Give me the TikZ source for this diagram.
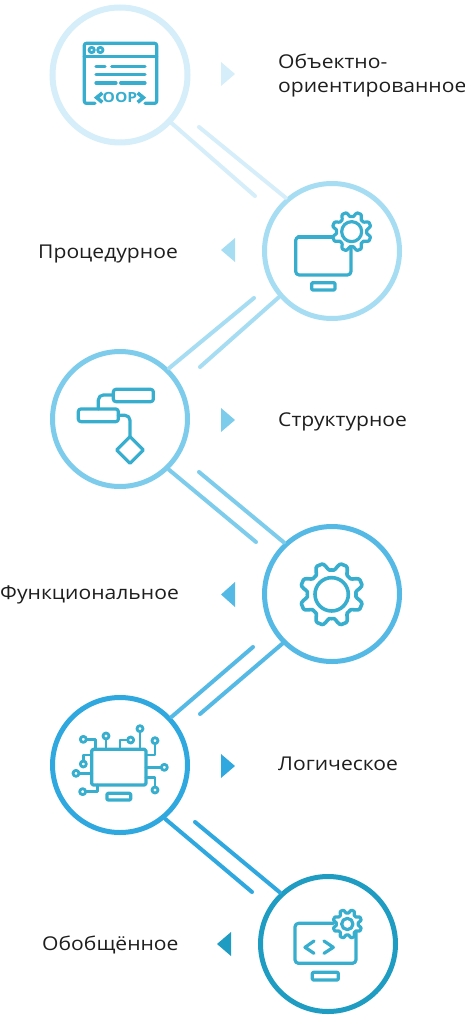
\documentclass[tikz,border=0pt]{standalone}
\usepackage{fontspec}
\setmainfont{Open Sans}[FakeStretch=1.11]
\definecolor{cA}{HTML}{D5EEF9}
\definecolor{cB}{HTML}{A6DDF3}
\definecolor{cC}{HTML}{7DCCEC}
\definecolor{cD}{HTML}{55B9E5}
\definecolor{cE}{HTML}{2FA8DF}
\definecolor{cF}{HTML}{1F9CC2}
\definecolor{ic}{HTML}{38AECF}
\definecolor{tx}{HTML}{1E1E1E}
\tikzset{
  ring/.style={circle,draw=#1,fill=white,line width=5pt,minimum size=135pt,inner sep=0pt,outer sep=3pt},
  link/.style={draw=#1,line width=4pt,line cap=round},
  lab/.style={anchor=base west,inner sep=0pt,font=\fontsize{19}{22}\selectfont,text=tx,align=left},
  zoomed/.style 2 args={shift={(#1pt,-#2pt)},x=.3333pt,y=-.3333pt},
  icon/.style={draw=ic,line width=3.2pt,line join=round,line cap=round},
  iconthin/.style={draw=ic,line width=2.8pt,line join=round,line cap=round},
}
\newcommand{\gearshape}[5]{% style, cx, cy, R, A
  \path[#1] plot[domain=0:357,samples=120,smooth cycle]
   ({#2+(#4+#5*(cos(8*(\x-22.5))-cos(24*(\x-22.5))/6))*cos(\x)},
    {#3+(#4+#5*(cos(8*(\x-22.5))-cos(24*(\x-22.5))/6))*sin(\x)});
}
\begin{document}
\begin{tikzpicture}[x=1pt,y=-1pt]
\useasboundingbox (0,0) rectangle (465,1024);
\node[ring=cA,line width=6pt] (c1) at (120,75) {};
\node[ring=cB] (c2) at (332,251) {};
\node[ring=cC] (c3) at (120,419) {};
\node[ring=cD] (c4) at (332,594) {};
\node[ring=cE] (c5) at (120,765) {};
\node[ring=cF] (c6) at (328,944) {};
% connectors
\coordinate (a1) at (255,196); \coordinate (b1) at (199,127);
\coordinate (a2) at (254,298); \coordinate (b2) at (200,367);
\coordinate (a3) at (256,542); \coordinate (b3) at (199,472);
\coordinate (a4) at (253,647); \coordinate (b4) at (200,714);
\coordinate (a5) at (252,892); \coordinate (b5) at (195,822);
\draw[link=cA] (c1.-43) -- (a1);
\draw[link=cA] (b1) -- (c2.131.6);
\draw[link=cB] (c3.46.7) -- (a2);
\draw[link=cB] (b2) -- (c2.221.5);
\draw[link=cC] (c3.-46.2) -- (a3);
\draw[link=cC] (b3) -- (c4.133.9);
\draw[link=cD] (c5.43.9) -- (a4);
\draw[link=cD] (b4) -- (c4.225);
\draw[link=cE] (c5.-50.3) -- (a5);
\draw[link=cE] (b5) -- (c6.133.3);
% triangles
\fill[cA] (221,62) -- (235,74) -- (221,86) -- cycle;
\fill[cB] (235,238) -- (221,250) -- (235,262) -- cycle;
\fill[cC] (221,408) -- (235,420) -- (221,432) -- cycle;
\fill[cD] (235,582) -- (221,594.5) -- (235,607) -- cycle;
\fill[cE] (221,754) -- (235,766) -- (221,778) -- cycle;
\fill[cF] (231,932) -- (217,944) -- (231,956) -- cycle;
% labels
\node[lab] (t1a) at (278,68.5) {Объектно-};
\node[lab] (t1b) at (278,92.5) {ориентированное};
\node[lab] (t2) at (38,258.5) {Процедурное};
\node[lab] (t3) at (278,426.5) {Структурное};
\node[lab] (t4) at (0,599.5) {Функциональное};
\node[lab] (t5) at (278,770.5) {Логическое};
\node[lab] (t6) at (42,950.5) {Обобщённое};
% icon 1
\begin{scope}[zoomed={40}{0}]
 \draw[icon,rounded corners=2pt] (165,310) -- (133,310) -- (133,130) -- (350,130) -- (350,310) -- (315,310);
 \draw[icon] (133,170) -- (350,170);
 \draw[iconthin] (155,150) circle (8);
 \draw[iconthin] (181,150) circle (8);
 \foreach \a/\b/\y in {168/195/200,215/315/200,168/315/224,168/228/249,242/315/249}
   \draw[icon] (\a,\y) -- (\b,\y);
 \draw[icon,line width=3.6pt,line cap=butt,line join=miter] (187,279) -- (170,293) -- (187,307);
 \draw[icon,line width=3.6pt,line cap=butt,line join=miter] (293,279) -- (310,293) -- (293,307);
 \node[inner sep=0pt,text=ic,font=\bfseries\fontsize{14}{14}\selectfont] (oop) at (240,293) {OOP};
\end{scope}
% icon 2
\begin{scope}[zoomed={250}{170}]
 \draw[icon,rounded corners=3.5pt] (150,201) -- (137,201) -- (137,315) -- (303,315) -- (303,230);
 \draw[icon] (145,201) -- (250,201);
 \gearshape{icon,fill=white}{305}{185}{52}{8}
 \draw[icon] (305,185) circle (30);
 \draw[icon,rounded corners=1pt] (185,338) rectangle (255,360);
\end{scope}
% icon 3
\begin{scope}[zoomed={40}{340}]
 \draw[icon,rounded corners=2.5pt] (220,148) rectangle (340,185);
 \draw[icon,rounded corners=2.5pt] (115,207) rectangle (235,245);
 \draw[icon,rounded corners=5pt] (175,207) -- (175,165) -- (220,165);
 \draw[icon,rounded corners=5pt] (235,226) -- (270,226) -- (270,290);
 \draw[icon] (270,290) -- (310,330) -- (270,370) -- (230,330) -- cycle;
\end{scope}
% icon 4
\begin{scope}[zoomed={250}{515}]
 \gearshape{icon,line width=3.6pt}{245}{238}{84}{13}
 \draw[icon,line width=3.6pt] (245,238) circle (50);
\end{scope}
% icon 5
\begin{scope}[zoomed={40}{690}]
 \draw[icon,rounded corners=1.5pt] (155,178) rectangle (318,285);
 \draw[icon,rounded corners=1pt] (201,310) rectangle (272,330);
 \foreach \p in {(130,148),(198,138),(272,150),(300,116),(345,152),(373,232),(345,300),(128,305),(108,250),(130,222)}
   \draw[iconthin] \p circle (9);
 \draw[iconthin] (139,148) -- (167,148) -- (167,178);
 \draw[iconthin] (198,147) -- (198,178);
 \draw[iconthin] (263,150) -- (240,150) -- (240,178);
 \draw[iconthin] (300,125) -- (300,178);
 \draw[iconthin] (345,161) -- (345,195) -- (318,195);
 \draw[iconthin] (364,232) -- (318,232);
 \draw[iconthin] (345,291) -- (345,262) -- (318,262);
 \draw[iconthin] (137,305) -- (172,305) -- (172,285);
 \draw[iconthin] (117,250) -- (155,250);
 \draw[iconthin] (130,213) -- (130,195) -- (155,195);
\end{scope}
% icon 6
\begin{scope}[zoomed={250}{865}]
 \draw[icon,rounded corners=3.5pt] (318,200) -- (318,295) -- (135,295) -- (135,175) -- (250,175);
 \gearshape{icon,fill=white}{292}{177}{38}{6}
 \draw[icon] (292,177) circle (17);
 \draw[icon] (192,228) -- (165,247) -- (192,265);
 \draw[icon] (222,228) -- (250,247) -- (222,265);
 \draw[icon,rounded corners=1pt] (187,322) rectangle (265,345);
\end{scope}
\end{tikzpicture}
\end{document}
